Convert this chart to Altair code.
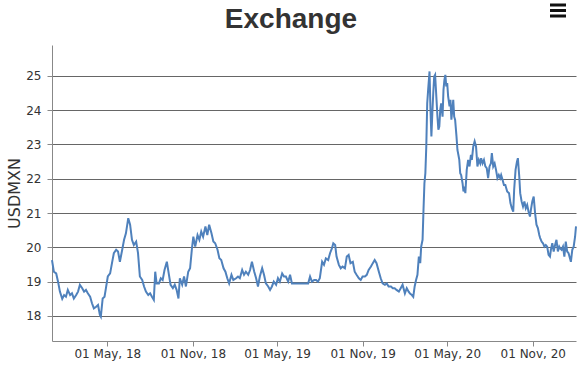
import altair as alt
import pandas as pd

chart_title = "Exchange"
y_title = "USDMXN"
y_ticks = [18, 19, 20, 21, 22, 23, 24, 25]
x_tick_dates = [(2018, 5), (2018, 11), (2019, 5), (2019, 11), (2020, 5), (2020, 11)]

dates_2018 = ["01-02", "01-06", "01-11", "01-15", "01-19", "01-24", "01-28", "02-01", "02-05", "02-10",
              "02-14", "02-18", "02-23", "02-27", "03-03", "03-08", "03-12", "03-16", "03-20", "03-25",
              "03-29", "04-02", "04-07", "04-11", "04-15", "04-17", "04-21", "04-25", "04-28", "05-02",
              "05-07", "05-11", "05-15", "05-20", "05-24", "05-28", "06-02", "06-06", "06-10", "06-15",
              "06-19", "06-23", "06-27", "07-02", "07-06", "07-10", "07-15", "07-19", "07-23", "07-28",
              "08-01", "08-05", "08-09", "08-12", "08-15", "08-20", "08-24", "08-28", "09-01", "09-06",
              "09-10", "09-14", "09-19", "09-23", "09-27", "10-01", "10-04", "10-09", "10-13", "10-17",
              "10-22", "10-26", "10-30", "11-02", "11-06", "11-11", "11-15", "11-19", "11-23", "11-28",
              "12-02", "12-06", "12-11", "12-15", "12-19", "12-24", "12-28"]
values_2018 = [19.63, 19.29, 19.24, 19.00, 18.71, 18.50, 18.61, 18.56, 18.76, 18.61,
               18.66, 18.51, 18.61, 18.71, 18.91, 18.81, 18.71, 18.76, 18.66, 18.56,
               18.37, 18.22, 18.27, 18.32, 18.03, 17.98, 18.51, 18.56, 18.81, 19.15,
               19.24, 19.54, 19.83, 19.93, 19.88, 19.58, 19.93, 20.22, 20.41, 20.85,
               20.66, 20.22, 20.07, 20.17, 19.83, 19.15, 19.05, 18.86, 18.71, 18.61,
               18.66, 18.56, 18.47, 19.29, 18.95, 18.95, 19.10, 19.05, 19.34, 19.58,
               19.24, 18.91, 18.81, 18.91, 18.76, 18.51, 19.10, 18.91, 19.15, 18.86,
               19.29, 19.39, 19.97, 20.31, 20.02, 20.36, 20.22, 20.46, 20.31, 20.61,
               20.36, 20.66, 20.41, 20.17, 20.12, 19.93, 19.68]

dates_2019 = ["01-01", "01-06", "01-10", "01-14", "01-18", "01-23", "01-27", "02-02", "02-06", "02-10",
              "02-15", "02-19", "02-23", "02-28", "03-04", "03-08", "03-13", "03-17", "03-21", "03-25",
              "03-30", "04-03", "04-07", "04-12", "04-16", "04-20", "04-24", "04-29", "05-03", "05-07",
              "05-12", "05-16", "05-20", "05-25", "05-29", "06-02", "07-07", "07-11", "07-15", "07-20",
              "07-24", "07-28", "08-01", "08-06", "08-10", "08-14", "08-19", "08-23", "08-27", "08-30",
              "09-03", "09-06", "09-11", "09-15", "09-19", "09-24", "09-28", "10-02", "10-06", "10-11",
              "10-15", "10-19", "10-24", "10-28", "11-01", "11-06", "11-10", "11-14", "11-19", "11-23",
              "11-27", "12-01", "12-06", "12-10", "12-14", "12-19", "12-23", "12-27"]
values_2019 = [19.63, 19.39, 19.29, 19.10, 18.95, 19.20, 19.05, 19.10, 19.15, 19.10,
               19.34, 19.20, 19.29, 19.20, 19.34, 19.58, 19.29, 19.10, 18.86, 19.15,
               19.39, 19.20, 18.95, 18.86, 18.76, 18.86, 19.00, 18.91, 19.10, 19.00,
               19.24, 19.15, 19.15, 19.00, 19.20, 18.95, 18.95, 19.15, 19.00, 19.05,
               19.05, 19.00, 19.10, 19.58, 19.49, 19.68, 19.63, 19.83, 19.97, 20.12,
               20.07, 19.73, 19.49, 19.39, 19.44, 19.39, 19.73, 19.78, 19.54, 19.58,
               19.29, 19.20, 19.10, 19.05, 19.15, 19.15, 19.20, 19.34, 19.44, 19.54,
               19.63, 19.54, 19.29, 19.10, 18.95, 18.91, 18.95, 18.86]

dates_2020 = ["01-01", "01-05", "01-09", "01-13", "01-18", "01-22", "01-26", "01-31", "02-04", "02-08",
              "02-11", "02-15", "02-18", "02-21", "02-24", "02-27", "03-01", "03-04", "03-06", "03-09",
              "03-11", "03-13", "03-15", "03-17", "03-19", "03-21", "03-24", "03-26", "03-28", "03-30",
              "04-01", "04-03", "04-05", "04-08", "04-10", "04-12", "04-14", "04-16", "04-18", "04-21",
              "04-23", "04-25", "04-27", "04-29", "05-01", "05-03", "05-06", "05-08", "05-10", "05-12",
              "05-14", "05-16", "05-18", "05-21", "05-23", "05-25", "05-27", "05-29", "05-31", "06-03",
              "06-05", "06-07", "06-09", "06-12", "06-15", "06-18", "06-21", "06-23", "06-26", "06-29",
              "07-02", "07-05", "07-08", "07-11", "07-13", "07-16", "07-19", "07-22", "07-25", "07-28",
              "07-31", "08-03", "08-05", "08-08", "08-11", "08-14", "08-17", "08-20", "08-23", "08-25",
              "08-28", "08-31", "09-03", "09-07", "09-11", "09-14", "09-17", "09-20", "09-22", "09-25",
              "09-28", "09-30", "10-03", "10-05", "10-08", "10-11", "10-14", "10-17", "10-20", "10-23",
              "10-26", "10-28", "10-31", "11-03", "11-06", "11-09", "11-12", "11-15", "11-17", "11-20",
              "11-23", "11-26", "11-29", "12-02", "12-05", "12-08", "12-10", "12-13", "12-16", "12-19",
              "12-22", "12-25", "12-28", "12-30"]
values_2020 = [18.86, 18.81, 18.81, 18.76, 18.71, 18.81, 18.91, 18.66, 18.81, 18.71,
               18.65, 18.61, 18.56, 18.86, 19.05, 19.20, 19.73, 19.54, 20.02, 20.22,
               21.09, 21.87, 22.16, 22.94, 24.20, 24.59, 25.13, 24.01, 23.23, 23.91,
               24.50, 24.98, 25.03, 24.30, 23.81, 23.43, 23.52, 24.01, 24.20, 23.81,
               24.59, 24.88, 25.03, 24.69, 24.79, 24.40, 24.11, 24.30, 23.72, 24.01,
               24.30, 23.81, 23.72, 23.23, 22.84, 22.70, 22.55, 22.16, 22.11, 21.87,
               21.63, 21.77, 21.58, 22.26, 22.55, 22.36, 22.70, 22.55, 22.94, 23.09,
               22.94, 22.36, 22.55, 22.45, 22.60, 22.45, 22.55, 22.36, 22.31, 22.02,
               22.36, 22.45, 22.75, 22.36, 22.45, 22.26, 22.02, 22.11, 22.02, 22.11,
               21.97, 21.82, 21.82, 21.63, 21.58, 21.29, 21.14, 21.04, 21.68, 22.26,
               22.50, 22.60, 22.06, 21.58, 21.34, 21.19, 21.34, 21.14, 21.24, 21.04,
               20.90, 21.09, 21.34, 21.48, 21.00, 20.66, 20.56, 20.36, 20.27, 20.17,
               20.12, 20.02, 20.07, 20.02, 19.78, 19.73, 19.93, 20.12, 19.88, 20.07,
               20.22, 19.88, 20.02, 19.97]

dates_2021 = ["01-02", "01-05", "01-08", "01-11", "01-14", "01-17", "01-20", "01-22", "01-25", "01-28",
              "01-31", "02-02"]
values_2021 = [19.93, 20.02, 19.73, 20.17, 19.88, 19.83, 19.68, 19.58, 19.93, 20.02,
               20.31, 20.61]

all_dates = ([f"2018-{d}" for d in dates_2018] + [f"2019-{d}" for d in dates_2019]
             + [f"2020-{d}" for d in dates_2020] + [f"2021-{d}" for d in dates_2021])
all_values = values_2018 + values_2019 + values_2020 + values_2021
df = pd.DataFrame({"date": all_dates, "value": all_values})

LEFT, TOP = 52, 45
W, H = 524, 296

line = alt.Chart(df).mark_line(color="#4F81BC", strokeWidth=2).encode(
    x=alt.X(
        "date:T",
        scale=alt.Scale(type="utc"),
        axis=alt.Axis(
            values=[alt.DateTime(year=y, month=m, date=1, utc=True) for y, m in x_tick_dates],
            labelExpr="utcFormat(datum.value, '%d %b, %y')",
            grid=False, title=None,
            labelFont="DejaVu Sans", labelFontSize=12, labelColor="#333333",
            labelPadding=2, tickSize=5, tickColor="#888888", domainColor="#888888",
            labelFlush=False, labelOverlap=False,
        ),
    ),
    y=alt.Y(
        "value:Q",
        scale=alt.Scale(domain=[17.27, 25.9], nice=False, zero=False),
        axis=alt.Axis(
            values=y_ticks, title=y_title, grid=True, gridColor="#666666", gridWidth=1,
            labelFont="DejaVu Sans", labelFontSize=12, labelColor="#333333",
            labelPadding=6, tickSize=5, tickColor="#888888", domainColor="#888888",
            titleFont="DejaVu Sans", titleFontSize=16, titleFontWeight="normal",
            titleColor="#333333", titleAngle=270, titleAlign="center",
            titleBaseline="alphabetic", titleX=-33, titleY=H / 2,
        ),
    ),
)

title = alt.Chart(pd.DataFrame({"t": [chart_title]})).mark_text(
    font="Liberation Sans", fontWeight="bold",
    fontSize=28, color="#333333", align="center", baseline="alphabetic",
).encode(x=alt.value(291 - LEFT), y=alt.value(28 - TOP), text="t:N")

one = pd.DataFrame({"k": [0]})
menu_bars = [
    alt.Chart(one).mark_rule(color="#111111", strokeWidth=3).encode(
        x=alt.value(550 - LEFT), x2=alt.value(566 - LEFT), y=alt.value(yy - TOP)
    )
    for yy in (5, 10.5, 16)
]

chart = alt.layer(line, title, *menu_bars).properties(
    width=W, height=H,
    autosize=alt.AutoSizeParams(type="none"),
    padding={"left": LEFT, "top": TOP, "right": 587 - LEFT - W, "bottom": 368 - TOP - H},
    background="white",
).configure_view(stroke=None)

chart.save("out.html", embed_options={"renderer": "svg", "actions": False})
